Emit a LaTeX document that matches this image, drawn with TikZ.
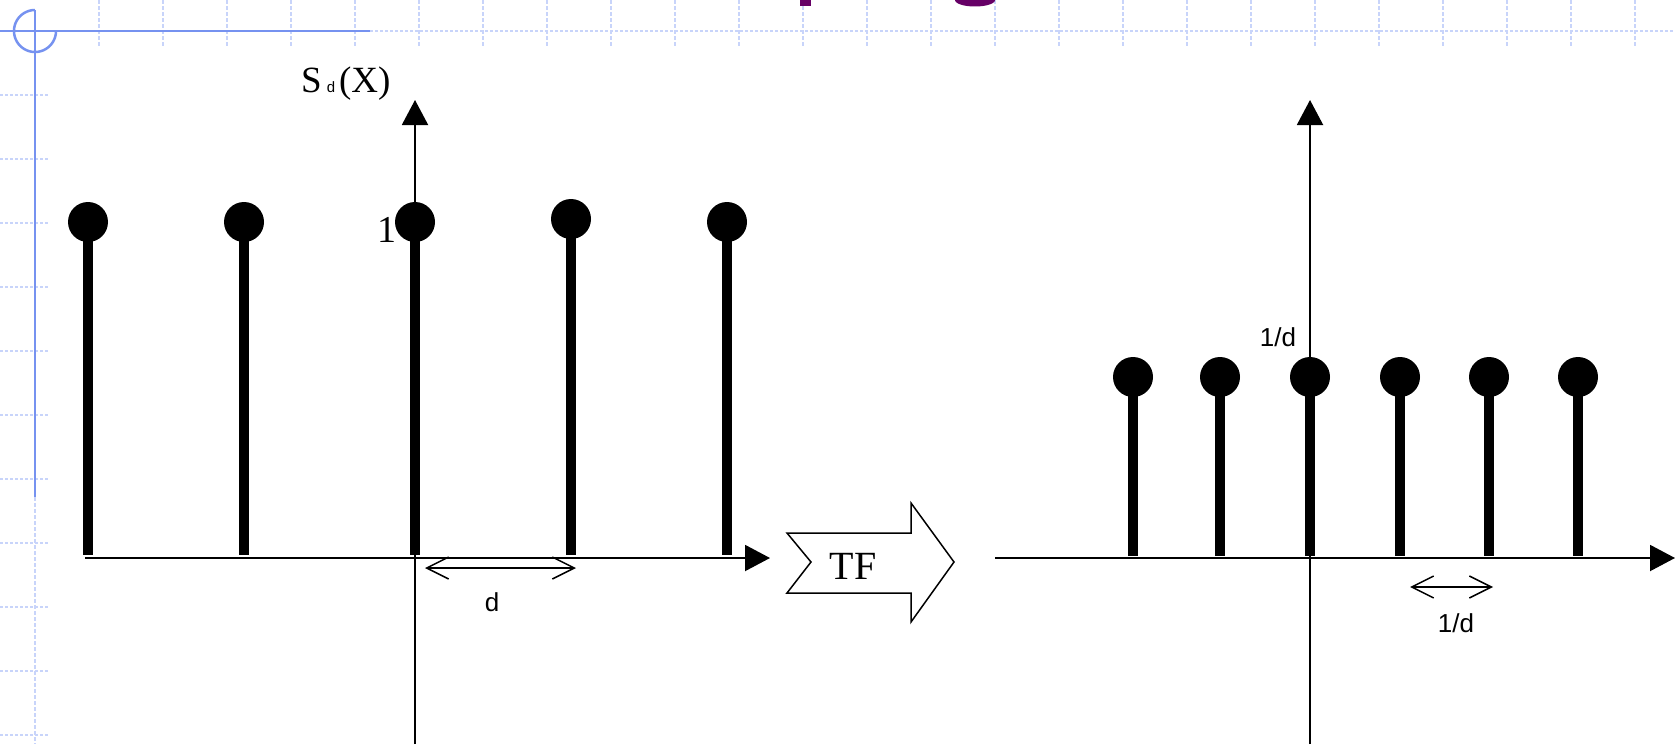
\documentclass[tikz,border=0pt]{standalone}
\usepackage{fontspec}
\setmainfont{Liberation Serif}
\setsansfont{Liberation Sans}
\usetikzlibrary{arrows.meta}
\definecolor{gridblue}{RGB}{200,212,250}
\definecolor{rulerblue}{RGB}{118,146,240}
\definecolor{titlepurple}{RGB}{102,0,102}
\begin{document}
\begin{tikzpicture}[x=1pt,y=-1pt,
  ball/.style={circle,fill=black,inner sep=0pt,minimum size=40pt},
  stem/.style={line width=9.5pt},
  axis/.style={line width=2pt,-{Triangle[length=25pt,width=26pt]}},
  gap/.style={line width=2pt,{Straight Barb[length=22pt,width=22pt,line width=1.5pt]}-{Straight Barb[length=22pt,width=22pt,line width=1.5pt]}},
  serifbig/.style={font=\fontsize{38}{42}\selectfont,inner sep=0pt},
  sanslbl/.style={font=\sffamily\fontsize{26}{30}\selectfont,inner sep=0pt},
  gridline/.style={gridblue,line width=2.5pt,dash pattern=on 3pt off 2pt},
  ruler/.style={rulerblue,line width=2.5pt}]
\useasboundingbox[fill=white] (0,0) rectangle (1675,744);

% ---- slide ruler: dotted grid marks, blue corner rules and arc ----
\draw[gridline] (0,31) -- (1675,31);
\foreach \k in {1,...,25}
  \draw[gridblue,line width=2pt,dash pattern=on 4pt off 2pt] ({35+64*\k},0) -- ({35+64*\k},46);
\foreach \k in {1,...,11}
  \draw[gridline] (0,{31+64*\k}) -- (48,{31+64*\k});
\draw[gridblue,line width=2pt,dash pattern=on 4pt off 2pt] (35,497) -- (35,744);
\draw[ruler] (0,31) -- (370,31);
\draw[ruler] (35,10) -- (35,497);
\draw[ruler] plot[domain=90:360,samples=60] ({35+21*cos(\x)},{31-21*sin(\x)});

% ---- title descenders at the top edge ----
\fill[titlepurple] (800,0) rectangle (811,6);
\fill[titlepurple] plot[domain=180:360,samples=40] ({975+20*cos(\x)},{-6.5*sin(\x)}) -- cycle;

% ---- left graph: comb S_d(x) ----
\coordinate (lx0) at (85,558);
\coordinate (lx1) at (770,558);
\coordinate (ly0) at (415,744);
\coordinate (ly1) at (415,100);
\draw[axis] (lx0) -- (lx1);
\draw[axis] (ly0) -- (ly1);
\foreach \n/\x/\y in {1/88/222,2/244/222,3/415/222,4/571/219,5/727/222}{
  \coordinate (ls\n) at (\x,555);
  \node[ball] (lb\n) at (\x,\y) {};
  \draw[stem] (lb\n.center) -- (ls\n);
}
\node[serifbig,anchor=east] (one) at (397,230) {1};
\node[anchor=base west,inner sep=0pt] (sdx) at (301,92)
  {\fontsize{37}{42}\selectfont S\hspace{5pt}{\sffamily\fontsize{15}{18}\selectfont d}\hspace{4pt}(X)};
\coordinate (d0) at (425,568);
\coordinate (d1) at (576,568);
\draw[gap] (d0) -- (d1);
\node[sanslbl] (dlbl) at (492,602) {d};

% ---- transform arrow ----
\draw[line width=1.5pt,fill=white] (787,533) -- (911,533) -- (911,503) -- (954,562)
  -- (911,622) -- (911,593) -- (787,593) -- (811,562) -- cycle;
\node[font=\fontsize{40}{44}\selectfont,inner sep=0pt] (tf) at (853,566) {TF};

% ---- right graph: spectrum comb ----
\coordinate (rx0) at (995,558);
\coordinate (rx1) at (1675,558);
\coordinate (ry0) at (1310,744);
\coordinate (ry1) at (1310,100);
\draw[axis] (rx0) -- (rx1);
\draw[axis] (ry0) -- (ry1);
\foreach \n/\x in {1/1133,2/1220,3/1310,4/1400,5/1489,6/1578}{
  \coordinate (rs\n) at (\x,556);
  \node[ball] (rb\n) at (\x,377) {};
  \draw[stem] (rb\n.center) -- (rs\n);
}
\node[sanslbl] (inv) at (1278,337) {1/d};
\coordinate (e0) at (1410,587);
\coordinate (e1) at (1493,587);
\draw[gap] (e0) -- (e1);
\node[sanslbl] (invlbl) at (1456,623) {1/d};
\end{tikzpicture}
\end{document}
